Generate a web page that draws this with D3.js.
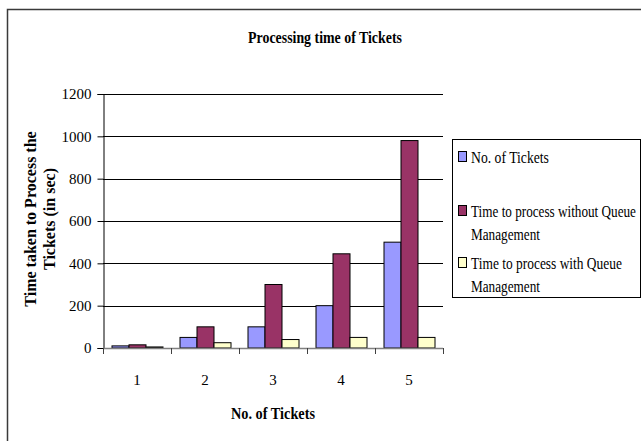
<!DOCTYPE html>
<html>
<head>
<meta charset="utf-8">
<script src="https://cdn.jsdelivr.net/npm/d3@7"></script>
<style>
  html, body { margin: 0; padding: 0; background: #fff; }
  svg { display: block; font-family: "Liberation Serif", "Times New Roman", serif; }
</style>
</head>
<body>
<svg id="chart" width="641" height="441"></svg>
<script>
// Processing time per ticket count, three series
const categories = ["1", "2", "3", "4", "5"];
const seriesNames = [
  "No. of Tickets",
  "Time to process without Queue Management",
  "Time to process with Queue Management"
];
const ticketCounts = [10, 50, 100, 200, 500];
const timeWithoutQueue = [15, 100, 300, 445, 980];
const timeWithQueue = [5, 25, 40, 50, 50];
const yTicks = [0, 200, 400, 600, 800, 1000, 1200];
const seriesColors = ["#9999FF", "#993366", "#FFFFCC"];
const legendLines = [
  ["No. of Tickets"],
  ["Time to process without Queue", "Management"],
  ["Time to process with Queue", "Management"]
];
// condensed widths for the legend lines
const legendWidths = [
  [78],
  [165, 69],
  [151, 69]
];

const seriesValues = [ticketCounts, timeWithoutQueue, timeWithQueue];

const svg = d3.select("#chart");

// draw a text squeezed horizontally to a target width, keeping its anchor point
function condensed(parent, tx, ty, str, width, opts) {
  const o = Object.assign({ anchor: "start", size: 16, weight: "normal" }, opts);
  const g = parent.append("g");
  const t = g.append("text")
    .attr("x", 0).attr("y", 0)
    .attr("text-anchor", o.anchor)
    .attr("font-size", o.size)
    .attr("font-weight", o.weight)
    .text(str);
  const natural = t.node().getComputedTextLength();
  g.attr("transform", `translate(${tx},${ty}) scale(${width / natural},1)`);
  return t;
}

// outer frame (runs off the right and bottom edges)
svg.append("path")
  .attr("d", "M7.5,441 L7.5,9.5 L641,9.5")
  .attr("fill", "none")
  .attr("stroke", "#3a3a3a")
  .attr("stroke-width", 1.5);

const plot = { left: 103, right: 443, top: 94, bottom: 348 };

const x = d3.scaleBand()
  .domain(categories)
  .range([plot.left, plot.right])
  .paddingInner(0)
  .paddingOuter(0);

const y = d3.scaleLinear()
  .domain([0, 1200])
  .range([plot.bottom, plot.top]);

const barW = x.bandwidth() / 4;
const x1 = d3.scaleBand()
  .domain(d3.range(seriesNames.length))
  .range([barW / 2, x.bandwidth() - barW / 2]);

// gridlines
svg.append("g")
  .selectAll("line")
  .data(yTicks.filter(d => d > 0))
  .join("line")
  .attr("x1", plot.left)
  .attr("x2", plot.right)
  .attr("y1", d => Math.round(y(d)) + 0.5)
  .attr("y2", d => Math.round(y(d)) + 0.5)
  .attr("stroke", "#000")
  .attr("stroke-width", 1);

// y axis
const yAxis = d3.axisLeft(y).tickValues(yTicks).tickSize(6).tickPadding(6).tickFormat(d3.format("d"));
const gy = svg.append("g")
  .attr("transform", `translate(${plot.left + 0.5},0)`)
  .call(yAxis);
gy.select(".domain").attr("stroke", "#000");
gy.selectAll(".tick line").attr("stroke", "#000");
gy.selectAll(".tick text")
  .attr("font-family", "Liberation Serif")
  .attr("font-size", 15)
  .attr("fill", "#000");

// bars
const groups = svg.append("g")
  .selectAll("g")
  .data(categories)
  .join("g")
  .attr("transform", d => `translate(${x(d)},0)`);

groups.selectAll("rect")
  .data((c, i) => seriesValues.map((vals, s) => ({ s, v: vals[i] })))
  .join("rect")
  .attr("x", d => x1(d.s) + 0.5)
  .attr("width", x1.bandwidth())
  .attr("y", d => y(d.v))
  .attr("height", d => y(0) - y(d.v))
  .attr("fill", d => seriesColors[d.s])
  .attr("stroke", "#000")
  .attr("stroke-width", 1);

// x axis
const xTickPos = categories.map(c => x(c)).concat([plot.right]);
const gx = svg.append("g");
gx.append("line")
  .attr("x1", plot.left).attr("x2", plot.right)
  .attr("y1", plot.bottom + 0.5).attr("y2", plot.bottom + 0.5)
  .attr("stroke", "#808080").attr("stroke-width", 1.5);
gx.selectAll("line.tk")
  .data(xTickPos)
  .join("line")
  .attr("class", "tk")
  .attr("x1", d => Math.round(d) + 0.5).attr("x2", d => Math.round(d) + 0.5)
  .attr("y1", plot.bottom).attr("y2", plot.bottom + 6)
  .attr("stroke", "#404040").attr("stroke-width", 1);
gx.selectAll("text")
  .data(categories)
  .join("text")
  .attr("x", d => x(d) + x.bandwidth() / 2)
  .attr("y", 385)
  .attr("text-anchor", "middle")
  .attr("font-size", 15)
  .text(d => d);

// titles
condensed(svg, 325, 43, "Processing time of Tickets", 154,
  { anchor: "middle", size: 17, weight: "bold" });
condensed(svg, 273, 419, "No. of Tickets", 84,
  { anchor: "middle", size: 16, weight: "bold" });

const yTitle = svg.append("g").attr("transform", "translate(0,219) rotate(-90)");
yTitle.append("text")
  .attr("x", 0).attr("y", 36)
  .attr("text-anchor", "middle")
  .attr("font-weight", "bold")
  .attr("font-size", 16)
  .text("Time taken to Process the");
yTitle.append("text")
  .attr("x", 0).attr("y", 55)
  .attr("text-anchor", "middle")
  .attr("font-weight", "bold")
  .attr("font-size", 16)
  .text("Tickets (in sec)");

// legend
const legend = svg.append("g");
legend.append("rect")
  .attr("x", 452.5).attr("y", 139.5)
  .attr("width", 188).attr("height", 158)
  .attr("fill", "#fff")
  .attr("stroke", "#000").attr("stroke-width", 1);

const legendBase = [163, 217, 269];
legendLines.forEach((lines, i) => {
  legend.append("rect")
    .attr("x", 458.5).attr("y", legendBase[i] - 11.5)
    .attr("width", 8).attr("height", 10)
    .attr("fill", seriesColors[i])
    .attr("stroke", "#000").attr("stroke-width", 1);
  lines.forEach((t, j) => {
    condensed(legend, 471, legendBase[i] + j * 23, t, legendWidths[i][j], { size: 17 });
  });
});
</script>
</body>
</html>
